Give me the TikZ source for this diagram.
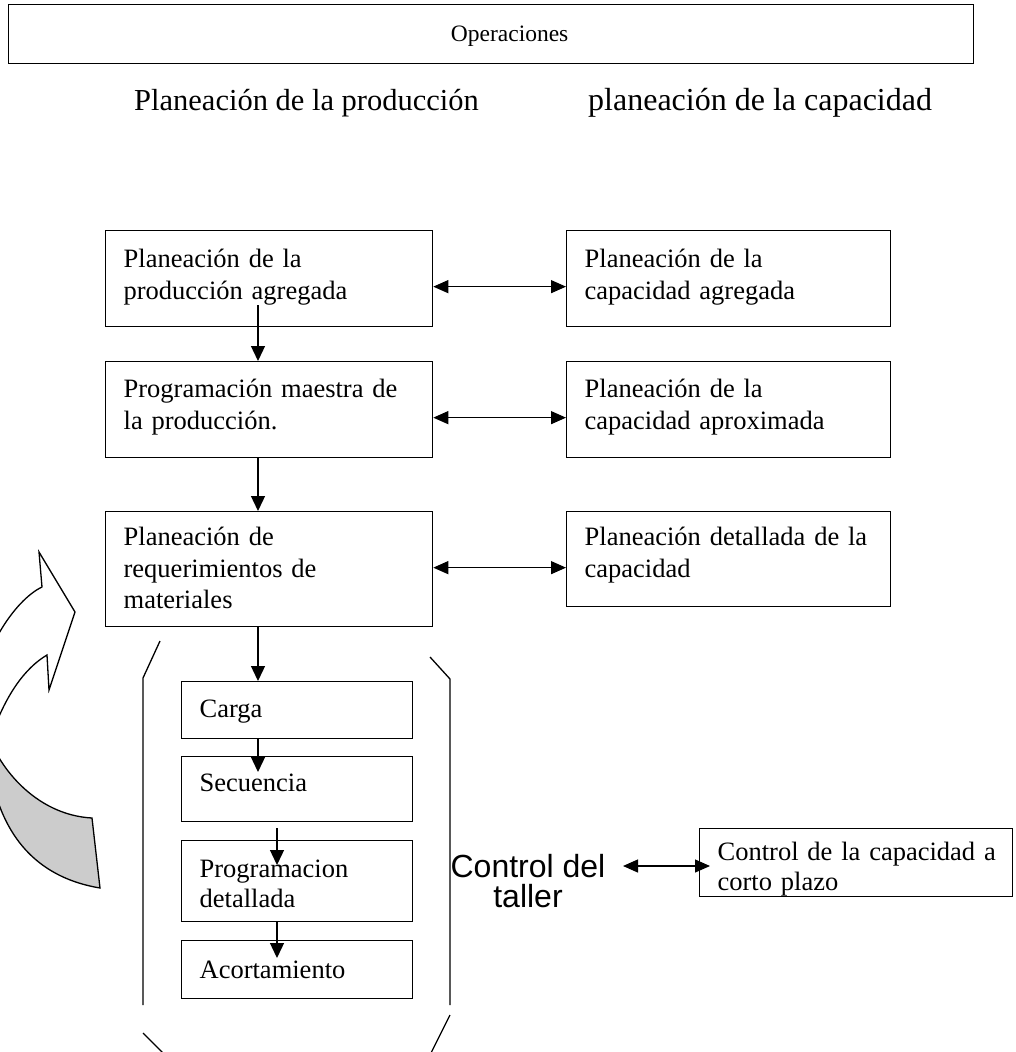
\documentclass[tikz,border=0pt]{standalone}
\usepackage{fontspec}
\setmainfont{Liberation Serif}
\newfontfamily\arialfont{Liberation Sans}
\usetikzlibrary{arrows.meta}
\begin{document}
\begin{tikzpicture}[x=1pt,y=-1pt,
  every node/.style={inner sep=0pt},
  box/.style={draw, line width=1.3pt, anchor=north west, align=left,
    inner xsep=18pt, inner ysep=0pt, font=\fontsize{26.5}{31.5}\selectfont},
  lowbox/.style={box, font=\fontsize{26.5}{30}\selectfont},
  arr/.style={line width=1.3pt, -{Triangle[length=15pt,width=14pt]}},
  dbl/.style={line width=1.3pt,
    {Triangle[length=15pt,width=13pt]}-{Triangle[length=15pt,width=13pt]}},
  edge/.style={line width=1.3pt},
]
\useasboundingbox (0,0) rectangle (1015,1052);

% title bar
\node[draw, line width=1.3pt, anchor=north west, align=center, text width=965pt,
  text height=37pt, text depth=22pt, font=\fontsize{23.5}{28}\selectfont]
  (ops) at (8,4) {\hspace*{37pt}Operaciones};

% column headings
\node[anchor=base west, font=\fontsize{30.5}{36}\selectfont] (hp) at (134,110)
  {Planeación de la producción};
\node[anchor=base west, font=\fontsize{32}{38}\selectfont] (hc) at (588,110)
  {planeación de la capacidad};

% production planning column
\node[box, text width=291pt, text height=37pt, text depth=59pt] (a1) at (105,230)
  {Planeación de la\\producción agregada};
\node[box, text width=291pt, text height=36pt, text depth=60pt] (a2) at (105,361)
  {Programación maestra de\\la producción.};
\node[box, text width=291pt, text height=34pt, text depth=81pt] (a3) at (105,511)
  {Planeación de\\requerimientos de\\materiales};

% capacity planning column
\node[box, text width=288pt, text height=37pt, text depth=59pt] (b1) at (566,230)
  {Planeación de la\\capacidad agregada};
\node[box, text width=288pt, text height=36pt, text depth=60pt] (b2) at (566,361)
  {Planeación de la\\capacidad aproximada};
\node[box, text width=288pt, text height=34pt, text depth=61pt] (b3) at (566,511)
  {Planeación detallada de la\\capacidad};

% shop floor control steps
\node[lowbox, text width=195pt, text height=36pt, text depth=21pt] (carga) at (181,681)
  {Carga};
\node[lowbox, text width=195pt, text height=35pt, text depth=30pt] (sec) at (181,756)
  {Secuencia};
\node[lowbox, text width=195pt, text height=37pt, text depth=44pt] (prog) at (181,840)
  {Programacion\\detallada};
\node[lowbox, text width=195pt, text height=38pt, text depth=20pt] (acort) at (181,940)
  {Acortamiento};

% short-term capacity control
\node[box, font=\fontsize{26.5}{29.5}\selectfont, text width=277pt,
  text height=32pt, text depth=36pt] (cbox) at (699,828)
  {\mbox{Control de la capacidad a}\\corto plazo};

\node[anchor=base, align=center, font=\arialfont\fontsize{32}{29.5}\selectfont]
  (ctrl) at (528,907) {Control del\\taller};

% links between the two columns
\draw[dbl] ([yshift=-8pt]a1.east) -- ([yshift=-8pt]a1.east -| b1.west);
\draw[dbl] ([yshift=-8pt]a2.east) -- ([yshift=-8pt]a2.east -| b2.west);
\draw[dbl] ([yshift=1.5pt]a3.east) -- ([yshift=1.5pt]a3.east -| b3.west);

\coordinate (ca) at (623,866);
\coordinate (cb) at (710,866);
\draw[dbl] (ca) -- (cb);

% downward flow
\coordinate (s1) at (258,305);
\coordinate (t1) at (258,772);
\coordinate (s2) at (277,828);
\coordinate (t2) at (277,865);
\coordinate (t3) at (277,958);
\draw[arr] (s1) -- (s1 |- a2.north);
\draw[arr] (a2.south -| s1) -- (a3.north -| s1);
\draw[arr] (a3.south -| s1) -- (carga.north -| s1);
\draw[arr] (carga.south -| t1) -- (t1);
\draw[arr] (s2) -- (t2);
\draw[arr] (prog.south -| t3) -- (t3);

% bracket around the shop floor steps
\draw[edge] (160,641) -- (143,678) -- (143,1005);
\draw[edge] (143,1033) -- (163,1053);
\draw[edge] (430,657) -- (450,679) -- (450,1005);
\draw[edge] (450,1015) -- (431,1053);

% curved feedback arrow on the left
\begin{scope}
\clip (0,0) rectangle (1015,1052);
\draw[line width=1.3pt, fill=black!20]
  (92,818) -- (100,888) .. controls (40,878) and (5,840) .. (-8,780)
  -- (-15,725) .. controls (-5,765) and (35,815) .. (92,818) -- cycle;
\draw[line width=1.3pt, fill=white]
  (47,655) -- (49,690) -- (75,612) -- (39,552) -- (42,587)
  .. controls (15,600) and (-20,650) .. (-30,720)
  -- (-10,740) .. controls (5,695) and (25,668) .. (47,655) -- cycle;
\end{scope}
\end{tikzpicture}
\end{document}
